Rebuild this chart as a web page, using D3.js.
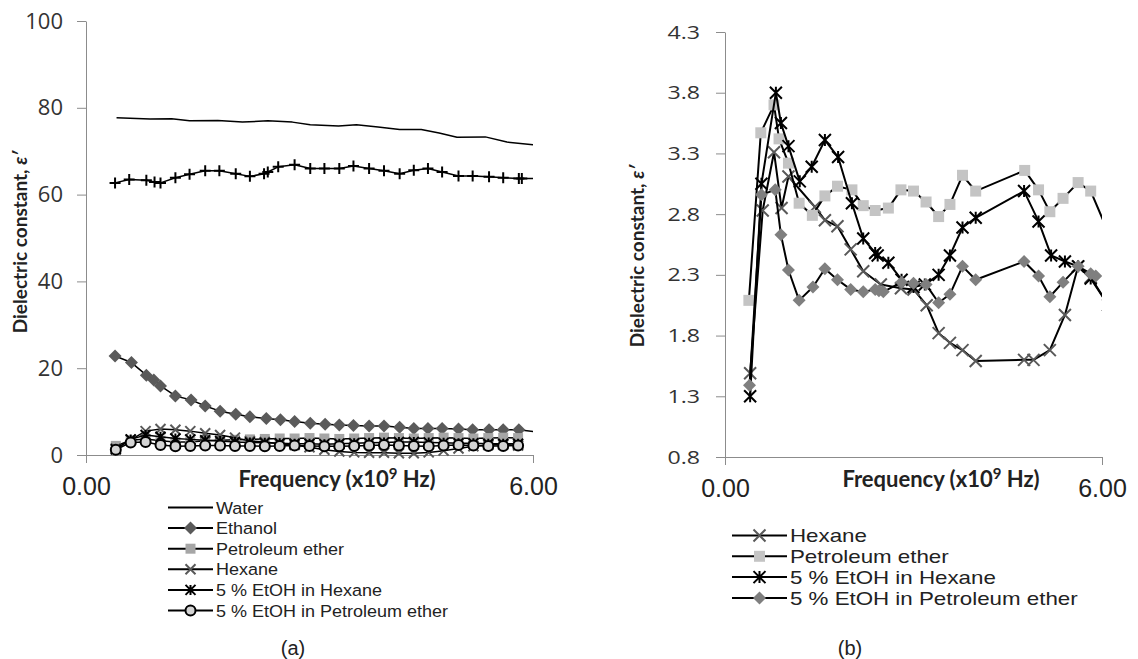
<!DOCTYPE html>
<html>
<head>
<meta charset="utf-8">
<script src="https://cdn.jsdelivr.net/npm/d3@7"></script>
<style>
  html, body { margin: 0; padding: 0; background: #fff; }
  svg { display: block; }
</style>
</head>
<body>
<div id="chart"></div>
<script>
// ---- Panel (a) data: frequency (x10^9 Hz) and dielectric constant ----
const waterFreq = [0.41, 0.86, 1.15, 1.39, 1.77, 2.10, 2.44, 2.77, 3.01, 3.39, 3.63, 3.92, 4.21, 4.50, 4.74, 4.98, 5.36, 5.65, 6.00];
const waterValues = [77.7, 77.4, 77.5, 77.0, 77.1, 76.7, 77.0, 76.7, 76.1, 75.8, 76.1, 75.6, 75.0, 75.0, 74.2, 73.2, 73.3, 72.1, 71.5];

// unlabelled series drawn with "+" markers
const plusFreq = [0.39, 0.58, 0.81, 0.92, 1.00, 1.20, 1.39, 1.60, 1.79, 2.01, 2.20, 2.39, 2.44, 2.58, 2.80, 3.01, 3.20, 3.40, 3.59, 3.80, 4.00, 4.21, 4.40, 4.59, 4.78, 5.00, 5.19, 5.41, 5.60, 5.81, 5.85, 6.10];
const plusValues = [62.7, 63.5, 63.3, 62.9, 62.7, 63.9, 64.7, 65.5, 65.5, 64.8, 64.2, 64.8, 65.2, 66.4, 66.9, 66.0, 66.0, 66.0, 66.6, 66.0, 65.5, 64.8, 65.6, 66.0, 65.2, 64.3, 64.3, 64.1, 63.9, 63.7, 63.7, 63.7];

const ethanolFreq = [0.39, 0.61, 0.81, 0.91, 1.00, 1.20, 1.41, 1.60, 1.80, 2.01, 2.20, 2.42, 2.61, 2.80, 3.01, 3.21, 3.40, 3.59, 3.80, 4.00, 4.21, 4.40, 4.59, 4.78, 5.00, 5.19, 5.41, 5.60, 5.81, 6.10];
const ethanolValues = [22.8, 21.3, 18.4, 17.3, 15.9, 13.6, 12.7, 11.3, 10.1, 9.4, 8.8, 8.4, 8.1, 7.7, 7.3, 7.1, 6.9, 6.8, 6.7, 6.7, 6.4, 6.1, 6.1, 6.1, 6.0, 5.8, 5.8, 5.8, 5.8, 5.2];

const lowFreqA = [0.4, 0.6, 0.8, 1.0, 1.2, 1.4, 1.6, 1.8, 2.0, 2.2, 2.4, 2.6, 2.8, 3.0, 3.2, 3.4, 3.6, 3.8, 4.0, 4.2, 4.4, 4.6, 4.8, 5.0, 5.2, 5.4, 5.6, 5.8];
const petEtherValuesA = [2.1, 3.4, 3.7, 3.3, 3.0, 3.0, 3.3, 3.4, 3.5, 3.6, 3.7, 3.8, 3.8, 3.9, 3.8, 3.7, 3.8, 3.9, 4.0, 3.9, 3.8, 3.9, 4.0, 3.9, 3.8, 3.9, 4.0, 3.9];
const hexaneValuesA = [1.5, 3.5, 5.5, 6.0, 5.8, 5.5, 5.0, 4.6, 4.0, 3.2, 3.0, 2.6, 2.3, 1.8, 1.2, 0.8, 0.6, 0.5, 0.5, 0.4, 0.4, 0.6, 1.0, 1.5, 2.0, 2.3, 2.4, 2.2];
const etohHexValuesA = [1.3, 3.6, 4.6, 4.2, 3.8, 3.6, 3.4, 3.2, 3.0, 2.9, 2.8, 2.7, 2.6, 2.6, 2.5, 2.6, 2.7, 2.8, 2.9, 3.0, 3.0, 2.9, 2.8, 2.7, 2.7, 2.6, 2.6, 2.6];
const etohPetValuesA = [1.2, 2.9, 3.0, 2.3, 2.0, 2.1, 2.2, 2.2, 2.1, 2.1, 2.0, 2.1, 2.2, 2.1, 2.0, 2.0, 2.1, 2.2, 2.3, 2.2, 2.1, 2.0, 2.2, 2.3, 2.2, 2.1, 2.1, 2.2];

const yTicksA = [0, 20, 40, 60, 80, 100];

// ---- Panel (b) data ----
const hexaneFreqB = [0.40, 0.60, 0.78, 0.90, 1.01, 1.43, 1.59, 1.79, 2.00, 2.20, 2.48, 2.80, 3.00, 3.21, 3.40, 3.58, 3.78, 3.99, 4.76, 4.91, 5.17, 5.41, 5.62, 5.82, 6.10];
const hexaneValuesB = [1.49, 2.83, 3.31, 2.85, 3.11, 2.86, 2.75, 2.70, 2.51, 2.33, 2.22, 2.19, 2.18, 2.05, 1.82, 1.74, 1.68, 1.59, 1.60, 1.60, 1.68, 1.97, 2.37, 2.28, 2.05];

const petEtherFreqB = [0.38, 0.57, 0.78, 0.86, 1.01, 1.18, 1.39, 1.59, 1.79, 2.02, 2.20, 2.39, 2.60, 2.80, 3.00, 3.20, 3.40, 3.58, 3.78, 3.99, 4.77, 4.99, 5.17, 5.38, 5.62, 5.82, 6.10];
const petEtherValuesB = [2.09, 3.47, 3.70, 3.42, 3.22, 2.89, 2.79, 2.95, 3.03, 3.00, 2.87, 2.83, 2.85, 3.00, 2.99, 2.90, 2.78, 2.88, 3.12, 2.99, 3.16, 3.00, 2.82, 2.93, 3.06, 2.99, 2.65];

const etohHexFreqB = [0.40, 0.58, 0.81, 0.89, 1.01, 1.19, 1.38, 1.59, 1.80, 2.02, 2.20, 2.39, 2.43, 2.60, 2.81, 3.00, 3.18, 3.40, 3.58, 3.78, 3.99, 4.76, 4.99, 5.19, 5.41, 5.62, 5.82, 6.10];
const etohHexValuesB = [1.30, 3.05, 3.80, 3.55, 3.36, 3.07, 3.19, 3.41, 3.27, 2.89, 2.60, 2.48, 2.46, 2.40, 2.26, 2.20, 2.22, 2.30, 2.46, 2.69, 2.77, 2.99, 2.74, 2.46, 2.41, 2.37, 2.27, 2.05];

const etohPetFreqB = [0.39, 0.58, 0.80, 0.89, 1.01, 1.18, 1.40, 1.59, 1.79, 2.00, 2.20, 2.39, 2.45, 2.52, 2.81, 3.00, 3.20, 3.40, 3.58, 3.78, 3.99, 4.76, 4.99, 5.17, 5.38, 5.62, 5.82, 5.90];
const etohPetValuesB = [1.39, 2.96, 3.00, 2.63, 2.34, 2.09, 2.20, 2.35, 2.26, 2.18, 2.16, 2.18, 2.17, 2.16, 2.24, 2.23, 2.22, 2.07, 2.14, 2.37, 2.26, 2.41, 2.29, 2.12, 2.24, 2.37, 2.31, 2.29];

const yTicksB = [0.8, 1.3, 1.8, 2.3, 2.8, 3.3, 3.8, 4.3];
const xTicks = [0, 6];

const svg = d3.select('#chart').append('svg')
    .attr('width', 1138)
    .attr('height', 659)
    .style('background', '#fff');

// marker shapes, s = half size
function markerPath(type, s) {
    switch (type) {
        case 'diamond': return `M0,${-s}L${s},0L0,${s}L${-s},0Z`;
        case 'square': return `M${-s},${-s}H${s}V${s}H${-s}Z`;
        case 'x': return `M${-s},${-s}L${s},${s}M${-s},${s}L${s},${-s}`;
        case 'star': return `M${-s},${-s}L${s},${s}M${-s},${s}L${s},${-s}M0,${-s}V${s}`;
        case 'plus': return `M${-s},0H${s}M0,${-s}V${s}`;
        case 'circle': return d3.arc()({ innerRadius: 0, outerRadius: s, startAngle: 0, endAngle: 2 * Math.PI });
    }
    return '';
}

function styleMarker(sel, m) {
    const filled = m.type === 'diamond' || m.type === 'square' || m.type === 'circle';
    sel.attr('d', markerPath(m.type, m.size))
        .attr('fill', filled ? m.color : 'none')
        .attr('stroke', m.type === 'circle' ? '#000' : (filled ? 'none' : m.color))
        .attr('stroke-width', m.strokeWidth || 2)
        .attr('stroke-linecap', 'butt');
}

// the source figure is stretched sideways a bit, so texts get a horizontal scale
function stretchX(sel, s) {
    sel.attr('transform', function () {
        const x = +this.getAttribute('x') || 0;
        return `translate(${x},0) scale(${s},1) translate(${-x},0)`;
    });
}

function drawPanel(p) {
    const x = d3.scaleLinear().domain([0, 6]).range([p.left, p.right]);
    const y = d3.scaleLinear().domain(p.yDomain).range([p.bottom, p.top]);

    const g = svg.append('g').attr('class', p.id);

    // axes
    const yAxis = g.append('g')
        .attr('transform', `translate(${p.left},0)`)
        .call(d3.axisLeft(y).tickValues(p.yTicks).tickSize(9).tickSizeOuter(0).tickPadding(p.yPad).tickFormat(p.yFormat));
    yAxis.select('.domain').attr('stroke', '#8c8c8c');
    yAxis.selectAll('.tick line').attr('stroke', '#8c8c8c');
    yAxis.selectAll('.tick text')
        .style('font-family', '"Open Sans", sans-serif')
        .style('font-size', p.yFont + 'px')
        .attr('fill', '#333')
        .call(stretchX, p.stretch);

    const xAxis = g.append('g')
        .attr('transform', `translate(0,${p.bottom})`)
        .call(d3.axisBottom(x).tickValues(xTicks).tickSize(8).tickSizeOuter(0).tickPadding(14).tickFormat(d3.format('.2f')));
    xAxis.select('.domain').attr('stroke', '#8c8c8c');
    xAxis.selectAll('.tick line').attr('stroke', '#8c8c8c');
    xAxis.selectAll('.tick text')
        .style('font-family', '"Liberation Sans", Arial, sans-serif')
        .style('font-size', '25px')
        .attr('fill', '#222');

    // axis titles
    const yTitle = g.append('text')
        .attr('transform', `translate(${p.yTitleX},${p.yTitleY}) rotate(-90)`)
        .attr('text-anchor', 'middle')
        .attr('dy', '0.35em')
        .style('font-family', 'Lato, sans-serif')
        .style('font-size', '19px')
        .style('font-weight', 'bold')
        .attr('fill', '#222')
        .text('Dielectric constant, ');
    yTitle.append('tspan').style('font-style', 'italic').text('ε′');

    const xTitle = g.append('text')
        .attr('x', p.xTitleX)
        .attr('y', 487)
        .attr('text-anchor', 'middle')
        .style('font-family', 'Lato, sans-serif')
        .style('font-size', '22px')
        .style('font-weight', 'bold')
        .attr('fill', '#222')
        .text('Frequency (x10');
    xTitle.append('tspan').attr('dy', -8).style('font-size', '15px').text('9');
    xTitle.append('tspan').attr('dy', 8).text(' Hz)');

    // plot clip (data beyond 6.00 is cut at the axis end)
    g.append('clipPath').attr('id', p.id + '-clip')
        .append('rect')
        .attr('x', p.left - 40).attr('y', 0)
        .attr('width', p.right - p.left + 40).attr('height', 659);

    const plot = g.append('g').attr('clip-path', `url(#${p.id}-clip)`);
    const line = d3.line().x(d => x(d[0])).y(d => y(d[1]));

    p.series.forEach(s => {
        const pts = d3.zip(s.freq, s.values);
        plot.append('path')
            .datum(pts)
            .attr('d', line)
            .attr('fill', 'none')
            .attr('stroke', '#000')
            .attr('stroke-width', s.lineWidth)
            .attr('stroke-linejoin', 'round');
        if (s.marker) {
            plot.selectAll(null)
                .data(pts)
                .enter()
                .append('path')
                .attr('transform', d => `translate(${x(d[0])},${y(d[1])})`)
                .call(styleMarker, s.marker);
        }
    });

    // legend
    const legend = g.append('g').attr('class', 'legend');
    const items = legend.selectAll('.legend-item')
        .data(p.series.filter(s => s.name))
        .enter()
        .append('g')
        .attr('class', 'legend-item')
        .attr('transform', (d, i) => `translate(0,${p.legend.y0 + i * p.legend.step})`);

    items.append('line')
        .attr('x1', p.legend.x1).attr('x2', p.legend.x2)
        .attr('stroke', '#000').attr('stroke-width', 2);
    items.filter(d => d.marker)
        .append('path')
        .attr('transform', `translate(${(p.legend.x1 + p.legend.x2) / 2},0)`)
        .each(function (d) { d3.select(this).call(styleMarker, d.marker); });
    items.append('text')
        .attr('x', p.legend.x2 + 3)
        .attr('dy', '0.36em')
        .style('font-family', '"Liberation Sans", Arial, sans-serif')
        .style('font-size', p.legend.font + 'px')
        .attr('fill', '#222')
        .text(d => d.name)
        .call(stretchX, p.legend.stretch);

    g.append('text')
        .attr('x', p.tagX).attr('y', 655)
        .attr('text-anchor', 'middle')
        .style('font-family', '"Liberation Sans", Arial, sans-serif')
        .style('font-size', '20px')
        .attr('fill', '#222')
        .text(p.tag);
}

drawPanel({
    id: 'panel-a',
    left: 86, right: 533, top: 21, bottom: 455,
    yDomain: [0, 100], yTicks: yTicksA, yFormat: d3.format('d'), yFont: 22, yPad: 14, stretch: 1,
    yTitleX: 20, yTitleY: 242, xTitleX: 337,
    series: [
        { name: 'Water', freq: waterFreq, values: waterValues, lineWidth: 1.5, marker: null },
        { name: null, freq: plusFreq, values: plusValues, lineWidth: 1.5, marker: { type: 'plus', size: 5.5, color: '#000' } },
        { name: 'Ethanol', freq: ethanolFreq, values: ethanolValues, lineWidth: 1.5, marker: { type: 'diamond', size: 6.5, color: '#5a5a5a' } },
        { name: 'Petroleum ether', freq: lowFreqA, values: petEtherValuesA, lineWidth: 1.5, marker: { type: 'square', size: 5, color: '#a6a6a6' } },
        { name: 'Hexane', freq: lowFreqA, values: hexaneValuesA, lineWidth: 1.5, marker: { type: 'x', size: 5, color: '#595959' } },
        { name: '5 % EtOH in Hexane', freq: lowFreqA, values: etohHexValuesA, lineWidth: 1.5, marker: { type: 'star', size: 5, color: '#000' } },
        { name: '5 % EtOH in Petroleum ether', freq: lowFreqA, values: etohPetValuesA, lineWidth: 1.5, marker: { type: 'circle', size: 5, color: '#d4d4d4' } }
    ],
    legend: { x1: 168, x2: 213, y0: 507.5, step: 20.6, font: 17, stretch: 1.06 },
    tag: '(a)', tagX: 293
});

drawPanel({
    id: 'panel-b',
    left: 725, right: 1102, top: 32, bottom: 457,
    yDomain: [0.8, 4.3], yTicks: yTicksB, yFormat: d3.format('.1f'), yFont: 19, yPad: 16, stretch: 1.22,
    yTitleX: 637, yTitleY: 256, xTitleX: 941,
    series: [
        { name: 'Hexane', freq: hexaneFreqB, values: hexaneValuesB, lineWidth: 2, marker: { type: 'x', size: 6, color: '#595959' } },
        { name: 'Petroleum ether', freq: petEtherFreqB, values: petEtherValuesB, lineWidth: 2, marker: { type: 'square', size: 5.5, color: '#c4c4c4' } },
        { name: '5 % EtOH in Hexane', freq: etohHexFreqB, values: etohHexValuesB, lineWidth: 2, marker: { type: 'star', size: 6, color: '#000' } },
        { name: '5 % EtOH in Petroleum ether', freq: etohPetFreqB, values: etohPetValuesB, lineWidth: 2, marker: { type: 'diamond', size: 6.5, color: '#7f7f7f' } }
    ],
    legend: { x1: 732, x2: 787, y0: 535.5, step: 20.8, font: 18.6, stretch: 1.2 },
    tag: '(b)', tagX: 850
});
</script>
</body>
</html>
